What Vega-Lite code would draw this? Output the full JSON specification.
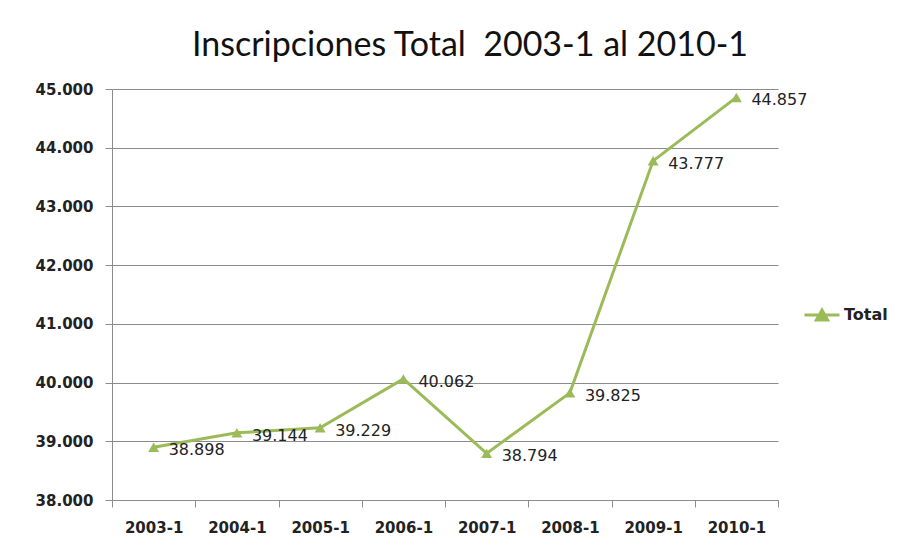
{
  "$schema": "https://vega.github.io/schema/vega-lite/v6.json",
  "autosize": "none",
  "width": 666,
  "height": 411,
  "padding": {"left": 112, "top": 89, "right": 134, "bottom": 60},
  "background": "white",
  "title": {
    "text": "Inscripciones Total\u00a0 2003-1 al 2010-1",
    "font": "Lato",
    "fontSize": 34,
    "fontWeight": "normal",
    "color": "#111111",
    "anchor": "middle",
    "dx": 25,
    "offset": 19
  },
  "data": {
    "values": [
      {"periodo": "2003-1", "total": 38898, "serie": "Total"},
      {"periodo": "2004-1", "total": 39144, "serie": "Total"},
      {"periodo": "2005-1", "total": 39229, "serie": "Total"},
      {"periodo": "2006-1", "total": 40062, "serie": "Total"},
      {"periodo": "2007-1", "total": 38794, "serie": "Total"},
      {"periodo": "2008-1", "total": 39825, "serie": "Total"},
      {"periodo": "2009-1", "total": 43777, "serie": "Total"},
      {"periodo": "2010-1", "total": 44857, "serie": "Total"}
    ]
  },
  "encoding": {
    "x": {
      "field": "periodo",
      "type": "ordinal",
      "sort": null,
      "scale": {"type": "band", "paddingInner": 0, "paddingOuter": 0},
      "axis": {
        "title": null,
        "labelAngle": 0,
        "tickBand": "extent",
        "grid": false,
        "domainColor": "#8c8c8c",
        "tickColor": "#8c8c8c",
        "tickSize": 7,
        "labelPadding": 13,
        "labelFont": "DejaVu Sans",
        "labelFontSize": 15,
        "labelFontWeight": "bold",
        "labelColor": "#222222"
      }
    },
    "y": {
      "field": "total",
      "type": "quantitative",
      "scale": {"domain": [38000, 45000], "nice": false, "zero": false},
      "axis": {
        "title": null,
        "values": [38000, 39000, 40000, 41000, 42000, 43000, 44000, 45000],
        "format": ",.0f",
        "grid": true,
        "gridColor": "#8c8c8c",
        "domainColor": "#8c8c8c",
        "tickColor": "#8c8c8c",
        "tickSize": 7,
        "labelPadding": 12,
        "labelFont": "DejaVu Sans",
        "labelFontSize": 15,
        "labelFontWeight": "bold",
        "labelColor": "#222222"
      }
    }
  },
  "layer": [
    {
      "mark": {"type": "line", "strokeWidth": 3},
      "encoding": {
        "color": {
          "field": "serie",
          "type": "nominal",
          "scale": {"range": ["#9BBB59"]},
          "legend": {
            "title": null,
            "orient": "none",
            "legendX": 691,
            "legendY": 207,
            "padding": 0,
            "symbolType": "M-1,0H1M-0.32,0.28L0,-0.28L0.32,0.28Z",
            "symbolSize": 1225,
            "symbolStrokeWidth": 3,
            "symbolFillColor": "#9BBB59",
            "symbolStrokeColor": "#9BBB59",
            "labelFont": "DejaVu Sans",
            "labelFontSize": 16,
            "labelFontWeight": "bold",
            "labelColor": "#222222",
            "labelOffset": 3
          }
        }
      }
    },
    {
      "mark": {"type": "point", "shape": "triangle-up", "filled": true, "size": 120, "opacity": 1},
      "encoding": {
        "color": {"field": "serie", "type": "nominal"}
      }
    },
    {
      "mark": {"type": "text", "align": "left", "baseline": "middle", "dx": 15, "dy": 3, "font": "DejaVu Sans", "fontSize": 16, "color": "#222222"},
      "encoding": {
        "text": {"field": "total", "type": "quantitative", "format": ",.0f"}
      }
    }
  ],
  "config": {
    "view": {"stroke": null},
    "locale": {
      "number": {"decimal": ",", "thousands": ".", "grouping": [3], "currency": ["", " €"]}
    }
  }
}
